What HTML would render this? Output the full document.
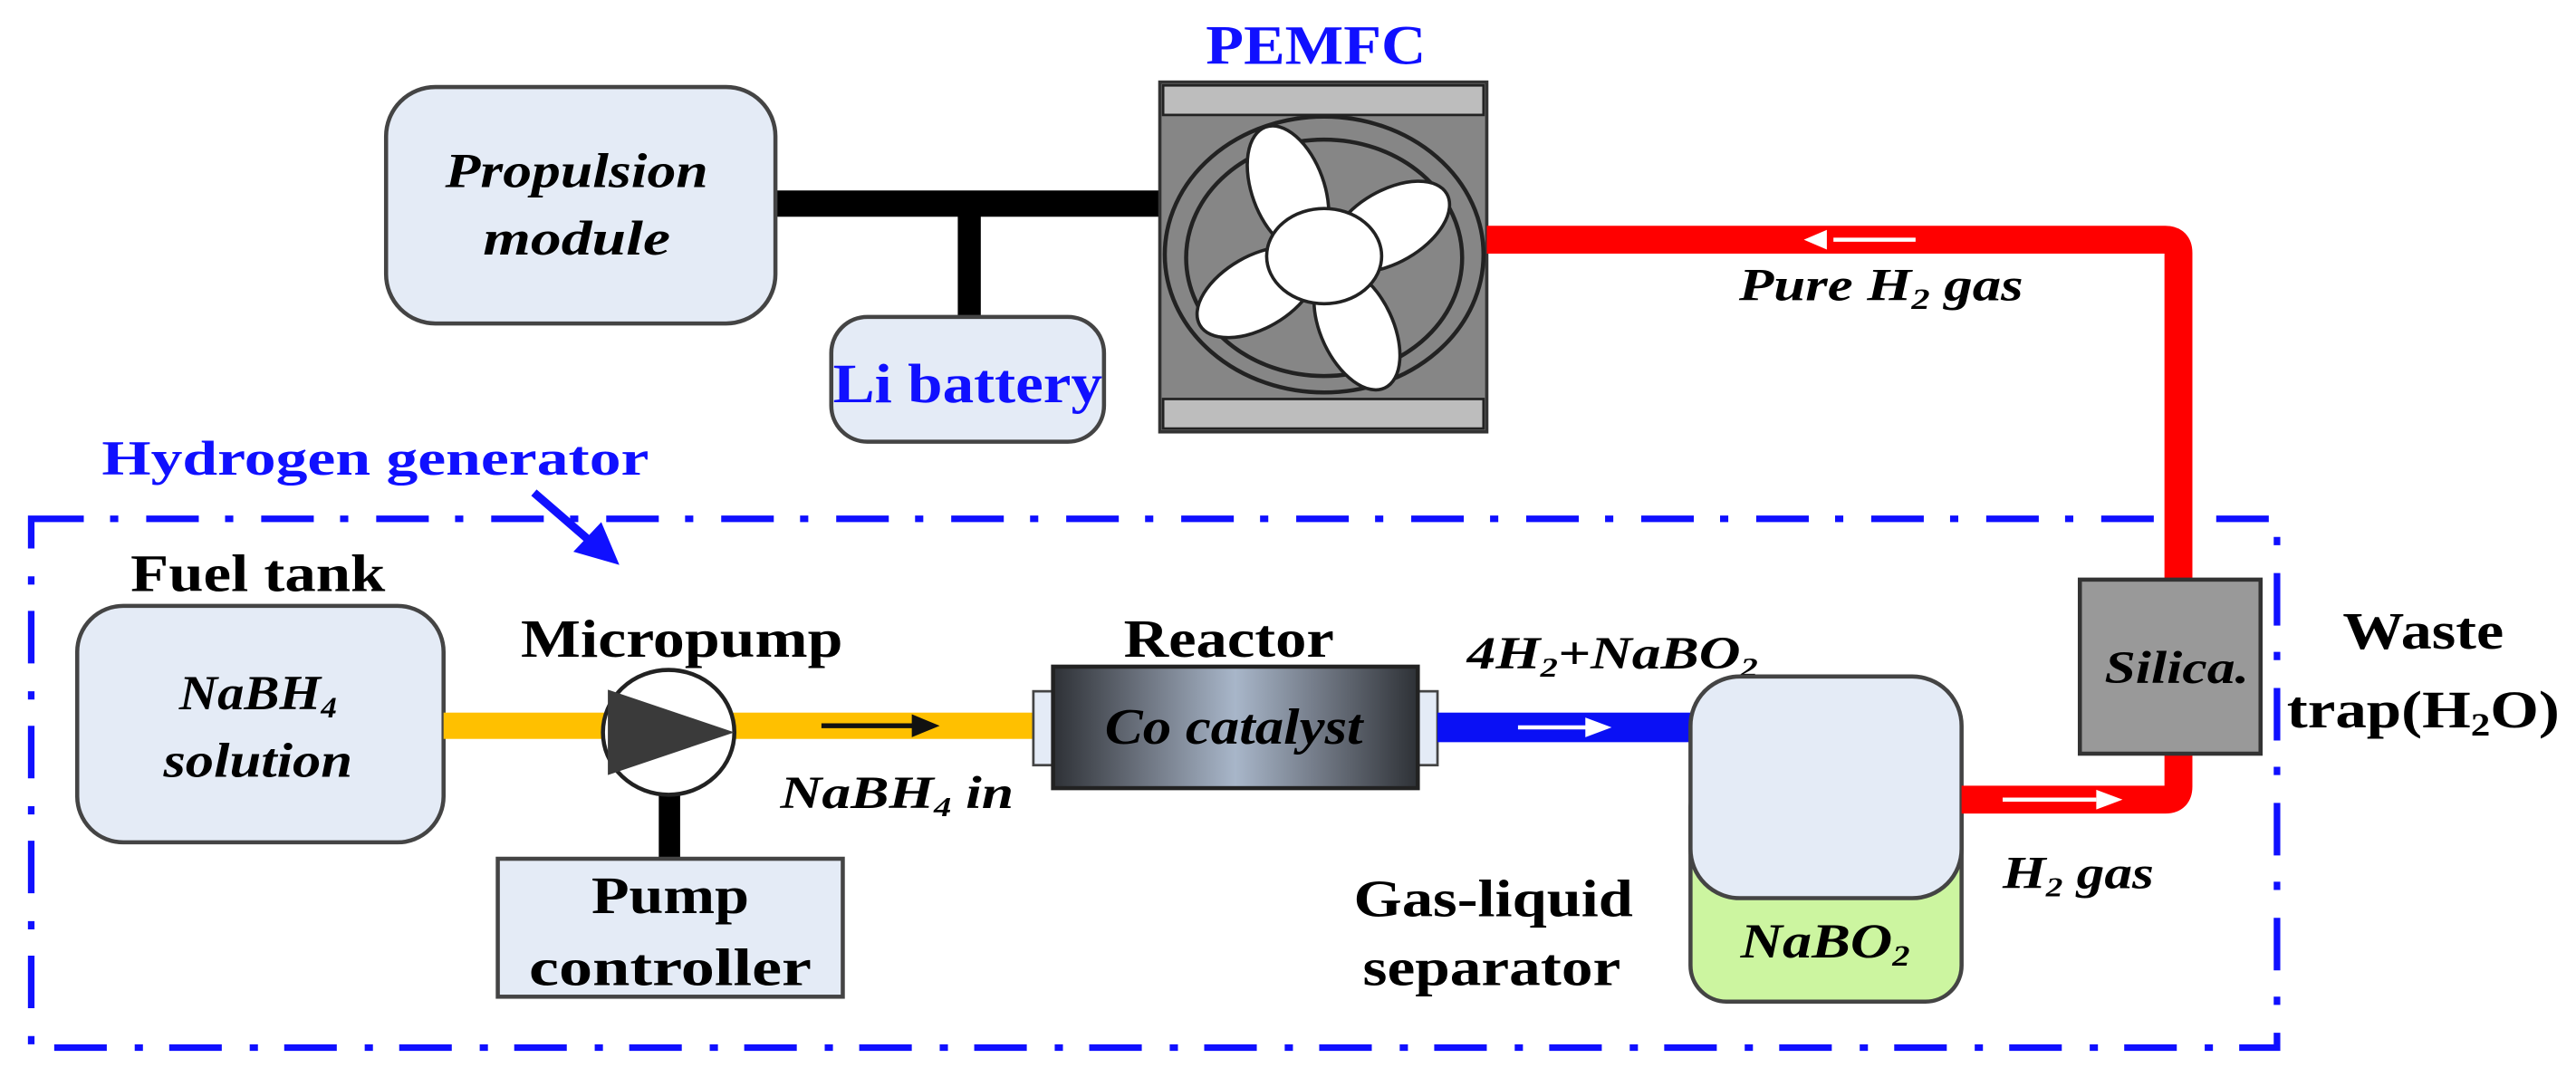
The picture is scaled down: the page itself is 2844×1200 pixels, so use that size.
<!DOCTYPE html>
<html><head><meta charset="utf-8"><style>
html,body{margin:0;padding:0;background:#fff;}
svg{display:block;}
text{font-family:"Liberation Serif",serif;font-weight:bold;}
.it{font-style:italic;}
</style></head><body>
<svg width="2844" height="1200" viewBox="0 0 1568 662" preserveAspectRatio="none" xmlns="http://www.w3.org/2000/svg">
<defs>
<linearGradient id="rg" x1="0" x2="1" y1="0" y2="0">
<stop offset="0" stop-color="#2e3136"/>
<stop offset="0.25" stop-color="#6d7480"/>
<stop offset="0.5" stop-color="#a8b6c9"/>
<stop offset="0.75" stop-color="#6d7480"/>
<stop offset="1" stop-color="#2e3136"/>
</linearGradient>
</defs>
<rect width="1568" height="662" fill="#fff"/>

<!-- dashed hydrogen generator box -->
<rect x="19" y="316" width="1367" height="322" fill="none" stroke="#1010ff" stroke-width="4" stroke-dasharray="32 16 5 17"/>

<!-- black power lines -->
<rect x="470" y="116" width="238" height="16" fill="#000"/>
<rect x="583" y="124" width="14" height="70" fill="#000"/>

<!-- Propulsion module -->
<rect x="235" y="53" width="237" height="144" rx="30" fill="#e4ebf6" stroke="#444" stroke-width="2.5"/>
<text x="351" y="114" font-size="30" class="it" text-anchor="middle" textLength="160" lengthAdjust="spacingAndGlyphs">Propulsion</text>
<text x="351" y="155" font-size="30" class="it" text-anchor="middle" textLength="114" lengthAdjust="spacingAndGlyphs">module</text>

<!-- Li battery -->
<rect x="506" y="193" width="166" height="76" rx="22" fill="#e4ebf6" stroke="#444" stroke-width="2.5"/>
<text x="589" y="245" font-size="34" fill="#1010ff" text-anchor="middle" textLength="164" lengthAdjust="spacingAndGlyphs">Li battery</text>

<!-- PEMFC -->
<text x="801" y="39" font-size="34" fill="#1010ff" text-anchor="middle" textLength="134" lengthAdjust="spacingAndGlyphs">PEMFC</text>
<rect x="706" y="50" width="199" height="213" fill="#868686" stroke="#333" stroke-width="2"/>
<rect x="708" y="52" width="195" height="18" fill="#bdbdbd" stroke="#222" stroke-width="1.5"/>
<rect x="708" y="243" width="195" height="18" fill="#bdbdbd" stroke="#222" stroke-width="1.5"/>
<ellipse cx="806" cy="155" rx="97" ry="84" fill="#868686" stroke="#222" stroke-width="2.5"/>
<ellipse cx="806" cy="157" rx="84" ry="72" fill="#868686" stroke="#222" stroke-width="2.5"/>
<g fill="#fff" stroke="#222" stroke-width="2">
<ellipse cx="784" cy="115" rx="22" ry="40" transform="rotate(-20 784 115)"/>
<ellipse cx="846" cy="138" rx="22" ry="40" transform="rotate(60 846 138)"/>
<ellipse cx="826" cy="200" rx="22" ry="40" transform="rotate(-25 826 200)"/>
<ellipse cx="765" cy="178" rx="22" ry="40" transform="rotate(60 765 178)"/>
<ellipse cx="806" cy="156" rx="35" ry="29"/>
</g>

<!-- red pure H2 line -->
<path d="M905 146 H1318 Q1326 146 1326 154 V355" fill="none" stroke="#ff0000" stroke-width="17"/>
<line x1="1116" y1="146" x2="1166" y2="146" stroke="#fff" stroke-width="2.5"/>
<polygon points="1098,146 1112,140 1112,152" fill="#fff"/>
<text x="1145" y="183" font-size="28" class="it" text-anchor="middle" textLength="173" lengthAdjust="spacingAndGlyphs">Pure H<tspan font-size="18" dy="5">2</tspan><tspan dy="-5"> gas</tspan></text>

<!-- Hydrogen generator label -->
<text x="62" y="289" font-size="30" fill="#1010ff" textLength="333" lengthAdjust="spacingAndGlyphs">Hydrogen generator</text>
<line x1="325" y1="300" x2="362" y2="332" stroke="#1010ff" stroke-width="5"/>
<polygon points="377,344 349,336 366,318" fill="#1010ff"/>

<!-- Fuel tank -->
<text x="157" y="360" font-size="32" text-anchor="middle" textLength="155" lengthAdjust="spacingAndGlyphs">Fuel tank</text>
<rect x="47" y="369" width="223" height="144" rx="28" fill="#e4ebf6" stroke="#444" stroke-width="2.5"/>
<text x="157" y="432" font-size="30" class="it" text-anchor="middle" textLength="96" lengthAdjust="spacingAndGlyphs">NaBH<tspan font-size="18" dy="5">4</tspan></text>
<text x="157" y="473" font-size="30" class="it" text-anchor="middle" textLength="115" lengthAdjust="spacingAndGlyphs">solution</text>

<!-- orange line -->
<rect x="270" y="434" width="360" height="16" fill="#ffc000"/>
<line x1="500" y1="442" x2="556" y2="442" stroke="#111" stroke-width="3"/>
<polygon points="572,442 555,435 555,449" fill="#111"/>

<!-- pump -->
<text x="415" y="400" font-size="33" text-anchor="middle" textLength="196" lengthAdjust="spacingAndGlyphs">Micropump</text>
<rect x="401" y="482" width="13" height="43" fill="#000"/>
<ellipse cx="407" cy="446" rx="40" ry="38" fill="#fff" stroke="#222" stroke-width="2.5"/>
<polygon points="370,420 447,446 370,472" fill="#3a3a3a"/>
<rect x="303" y="523" width="210" height="84" fill="#e4ebf6" stroke="#444" stroke-width="2.5"/>
<text x="408" y="556" font-size="32" text-anchor="middle" textLength="96" lengthAdjust="spacingAndGlyphs">Pump</text>
<text x="408" y="600" font-size="32" text-anchor="middle" textLength="172" lengthAdjust="spacingAndGlyphs">controller</text>
<text x="475" y="492" font-size="28" class="it" textLength="142" lengthAdjust="spacingAndGlyphs">NaBH<tspan font-size="17" dy="5">4</tspan><tspan dy="-5"> in</tspan></text>

<!-- reactor -->
<text x="748" y="400" font-size="33" text-anchor="middle" textLength="128" lengthAdjust="spacingAndGlyphs">Reactor</text>
<rect x="629" y="421" width="13" height="45" fill="#e4ebf6" stroke="#444" stroke-width="1.5"/>
<rect x="862" y="421" width="13" height="45" fill="#e4ebf6" stroke="#444" stroke-width="1.5"/>
<rect x="641" y="406" width="222" height="74" fill="url(#rg)" stroke="#222" stroke-width="2.5"/>
<text x="751" y="453" font-size="31" class="it" text-anchor="middle" textLength="157" lengthAdjust="spacingAndGlyphs">Co catalyst</text>

<!-- blue line -->
<rect x="875" y="434" width="156" height="18" fill="#0a10f5"/>
<line x1="924" y1="443" x2="966" y2="443" stroke="#fff" stroke-width="2.5"/>
<polygon points="981,443 965,437 965,449" fill="#fff"/>
<text x="893" y="407" font-size="28" class="it" textLength="177" lengthAdjust="spacingAndGlyphs">4H<tspan font-size="17" dy="5">2</tspan><tspan dy="-5">+NaBO</tspan><tspan font-size="17" dy="5">2</tspan></text>

<!-- separator -->
<rect x="1029" y="470" width="165" height="140" rx="22" fill="#ccf5a0" stroke="#444" stroke-width="2.5"/>
<rect x="1029" y="412" width="165" height="135" rx="30" fill="#e4ebf6" stroke="#444" stroke-width="2.5"/>
<text x="1111" y="583" font-size="30" class="it" text-anchor="middle" textLength="103" lengthAdjust="spacingAndGlyphs">NaBO<tspan font-size="18" dy="5">2</tspan></text>
<text x="909" y="558" font-size="32" text-anchor="middle" textLength="170" lengthAdjust="spacingAndGlyphs">Gas-liquid</text>
<text x="908" y="600" font-size="32" text-anchor="middle" textLength="157" lengthAdjust="spacingAndGlyphs">separator</text>

<!-- red H2 gas line -->
<path d="M1194 487 H1318 Q1326 487 1326 479 V455" fill="none" stroke="#ff0000" stroke-width="17"/>
<line x1="1219" y1="487" x2="1276" y2="487" stroke="#fff" stroke-width="2.5"/>
<polygon points="1292,487 1276,481 1276,493" fill="#fff"/>
<text x="1219" y="541" font-size="28" class="it" textLength="92" lengthAdjust="spacingAndGlyphs">H<tspan font-size="17" dy="5">2</tspan><tspan dy="-5"> gas</tspan></text>

<!-- silica -->
<rect x="1266" y="353" width="110" height="106" fill="#999" stroke="#333" stroke-width="2.5"/>
<text x="1325" y="416" font-size="28" class="it" text-anchor="middle" textLength="88" lengthAdjust="spacingAndGlyphs">Silica.</text>

<!-- waste trap -->
<text x="1475" y="395" font-size="32" text-anchor="middle" textLength="98" lengthAdjust="spacingAndGlyphs">Waste</text>
<text x="1475" y="443" font-size="32" text-anchor="middle" textLength="166" lengthAdjust="spacingAndGlyphs">trap(H<tspan font-size="20" dy="5">2</tspan><tspan dy="-5">O)</tspan></text>
</svg>
</body></html>
